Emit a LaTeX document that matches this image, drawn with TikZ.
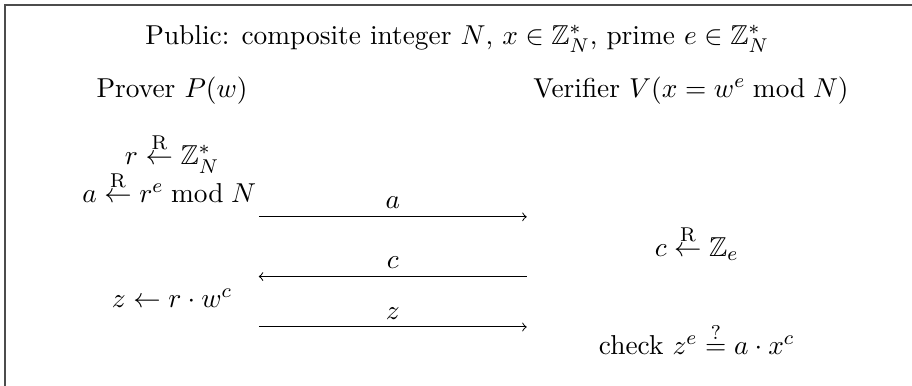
\documentclass[tikz,border=0pt,11pt]{standalone}
\usepackage{amsmath}
\usepackage{amssymb}
\usepackage{tikz}
\usetikzlibrary{arrows}

\newcommand{\rsample}{\stackrel{\mathrm{R}}{\leftarrow}}

\begin{document}
\begin{tikzpicture}[scale=1,every node/.style={anchor=base}]
        \useasboundingbox (0,0) rectangle (12.83,-5.42);
        \draw[line width=0.6pt,black!70] (0.07,-0.07) rectangle (13.5,-6.5);
        \node (pub) at (6.43,-0.62) {Public: composite integer \(N\), \(x\in\mathbb{Z}_N^*\), prime \(e\in\mathbb{Z}_N^*\)};
        \node (prover) at (2.42,-1.37) {Prover \(P(w)\)};
        \node (verifier) at (9.72,-1.37) {Verifier \(V(x=w^e \bmod N)\)};
        \node (samp) at (2.42,-2.32) {\(r\rsample\mathbb{Z}_N^*\)};
        \node (commit) at (2.38,-2.85) {\(a\rsample r^e \bmod N\)};
        \node (chal) at (9.8,-3.61) {\(c\rsample\mathbb{Z}_e\)};
        \node (resp) at (2.42,-4.33) {\(z\leftarrow r\cdot w^c\)};
        \node (check) at (9.8,-4.99) {check \(z^e\stackrel{?}{=}a\cdot x^c\)};
        % messages
        \coordinate (l1) at (3.64,-3.05); \coordinate (r1) at (7.41,-3.05);
        \coordinate (l2) at (3.64,-3.89); \coordinate (r2) at (7.41,-3.89);
        \coordinate (l3) at (3.64,-4.60); \coordinate (r3) at (7.41,-4.60);
        \draw[->] (l1) -- (r1) node[midway,anchor=south,inner sep=1pt,yshift=2pt] {\(a\)};
        \draw[->] (r2) -- (l2) node[midway,anchor=south,inner sep=1pt,yshift=2pt] {\(c\)};
        \draw[->] (l3) -- (r3) node[midway,anchor=south,inner sep=1pt,yshift=2pt] {\(z\)};
    \end{tikzpicture}
\end{document}
